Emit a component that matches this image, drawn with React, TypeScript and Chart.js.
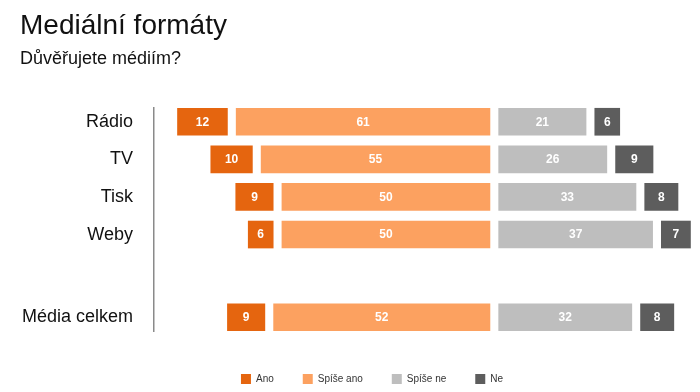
import { useEffect, useRef } from 'react';
import { Chart, registerables } from 'chart.js';

Chart.register(...registerables);

// ---- data ----
const categories = ['Rádio', 'TV', 'Tisk', 'Weby', 'Média celkem'];
const seriesNames = ['Ano', 'Spíše ano', 'Spíše ne', 'Ne'];
const ano = [12, 10, 9, 6, 9];
const spiseAno = [61, 55, 50, 50, 52];
const spiseNe = [21, 26, 33, 37, 32];
const ne = [6, 9, 8, 7, 8];

// ---- layout (row order, with an empty gap before the total) ----
const rowSlots = [0, 1, 2, 3, 5.2];
const GAP = 2.1; // gap between segments, in value units

const colors = ['#E5650F', '#FCA160', '#BEBEBE', '#5D5D5D'];
const series = [ano, spiseAno, spiseNe, ne];
const FONT = '"Liberation Sans", Arial, Helvetica, sans-serif';

function span(di: number, i: number): [number, number] {
  const h = GAP / 2;
  if (di === 1) return [-h - spiseAno[i], -h];
  if (di === 0) return [-h - spiseAno[i] - GAP - ano[i], -h - spiseAno[i] - GAP];
  if (di === 2) return [h, h + spiseNe[i]];
  return [h + spiseNe[i] + GAP, h + spiseNe[i] + GAP + ne[i]];
}

const valueLabels = {
  id: 'valueLabels',
  afterDatasetsDraw(chart: any) {
    const ctx = chart.ctx;
    ctx.save();
    ctx.font = `bold 12px ${FONT}`;
    ctx.fillStyle = '#ffffff';
    ctx.textAlign = 'center';
    ctx.textBaseline = 'middle';
    chart.data.datasets.forEach((_ds: any, di: number) => {
      const meta = chart.getDatasetMeta(di);
      meta.data.forEach((el: any, i: number) => {
        const p = el.getProps(['x', 'y', 'base'], true);
        ctx.fillText(String(series[di][i]), (p.x + p.base) / 2, p.y + 0.5);
      });
    });
    ctx.restore();
  },
};

export default function App() {
  const ref = useRef<HTMLCanvasElement | null>(null);

  useEffect(() => {
    if (!ref.current) return;
    Chart.defaults.font.family = FONT;
    const chart = new Chart(ref.current, {
      type: 'bar',
      data: {
        datasets: seriesNames.map((name, di) => ({
          label: name,
          data: categories.map((_c, i) => ({ x: span(di, i), y: rowSlots[i] })) as any,
          backgroundColor: colors[di],
          borderWidth: 0,
          grouped: false,
          barThickness: 27,
          maxBarThickness: 27.4,
          clip: false as any,
        })),
      },
      options: {
        indexAxis: 'y',
        animation: false,
        responsive: true,
        maintainAspectRatio: false,
        layout: { padding: { left: 12, right: 102, top: 0, bottom: -2 } },
        scales: {
          x: {
            type: 'linear',
            min: -81.8,
            max: 23,
            bounds: 'data',
            offset: false,
            display: true,
            grid: { display: false, drawTicks: false },
            border: { display: false },
            ticks: { display: false },
            afterFit: (s: any) => {
              s.height = 14;
            },
          },
          y: {
            type: 'linear',
            reverse: true,
            min: -0.366,
            max: 5.566,
            bounds: 'data',
            offset: false,
            grid: { display: false, drawTicks: false },
            border: { display: true, color: '#8a8a8a', width: 1.5 },
            afterBuildTicks: (s: any) => {
              s.ticks = rowSlots.map((v) => ({ value: v }));
            },
            afterFit: (s: any) => {
              s.width = 134;
            },
            ticks: {
              autoSkip: false,
              padding: 21,
              color: '#111111',
              font: { size: 18, family: FONT },
              callback: (_v: any, i: number) => categories[i],
            },
          },
        },
        plugins: {
          title: {
            display: true,
            text: 'Mediální formáty',
            align: 'start',
            color: '#111111',
            font: { size: 28, weight: 'normal', family: FONT },
            padding: { top: 1, bottom: 0 },
          },
          subtitle: {
            display: true,
            text: 'Důvěřujete médiím?',
            align: 'start',
            color: '#111111',
            font: { size: 18, weight: 'normal', family: FONT },
            padding: { top: 5.6, bottom: 38.2 },
          },
          legend: {
            display: true,
            position: 'bottom',
            fullSize: false,
            labels: {
              boxWidth: 10,
              boxHeight: 10,
              padding: 29,
              color: '#333333',
              font: { size: 10, family: FONT },
            },
          },
          tooltip: { enabled: false },
        },
      },
      plugins: [valueLabels],
    });
    return () => chart.destroy();
  }, []);

  return (
    <div style={{ position: 'relative', height: 384, marginBottom: -8 }}>
      <canvas ref={ref} />
    </div>
  );
}
